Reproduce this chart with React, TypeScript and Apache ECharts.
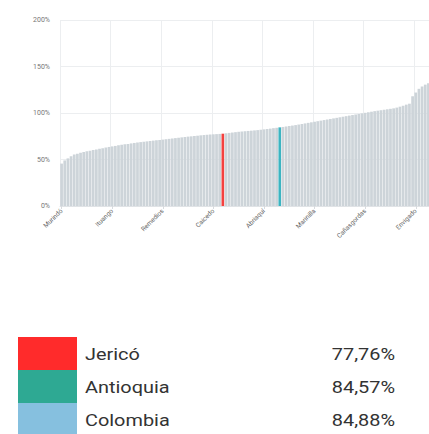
import React, { useEffect, useRef } from "react";
import * as echarts from "echarts";

const categories: string[] = [
  "Murindó", "Vigía del Fuerte", "Nechí", "El Bagre", "Zaragoza", "Cáceres", "Tarazá", "Segovia", "Anorí", "Briceño",
  "Dabeiba", "Mutatá", "Necoclí", "San Juan de Urabá", "Arboletes", "Turbo", "Ituango", "Peque", "Uramita", "Frontino",
  "Yondó", "Valdivia", "Chigorodó", "Carepa", "San Pedro de Urabá", "Apartadó", "Caucasia", "Puerto Nare", "Puerto Berrío", "Vegachí",
  "Yalí", "Amalfi", "Remedios", "Buriticá", "Sabanalarga", "Toledo", "Angostura", "Campamento", "Guadalupe", "San Andrés de Cuerquia",
  "Argelia", "Nariño", "Sonsón", "Abejorral", "Urrao", "Salgar", "Betulia", "Anzá", "Caicedo", "Heliconia",
  "Olaya", "Jericó", "Liborina", "Ebéjico", "San Francisco", "San Carlos", "San Luis", "Cocorná", "Granada", "Alejandría",
  "Concepción", "Santo Domingo", "Cisneros", "Maceo", "Abriaquí", "Caracolí", "Puerto Triunfo", "San Rafael", "San Roque", "Antioquia",
  "Yolombó", "Gómez Plata", "Carolina", "Giraldo", "Santa Fe de Antioquia", "Sopetrán", "San Jerónimo", "Armenia", "Titiribí", "Angelópolis",
  "Marinilla", "Amagá", "Venecia", "Fredonia", "Tarso", "Pueblorrico", "Hispania", "Betania", "Ciudad Bolívar", "Andes",
  "Jardín", "Támesis", "Valparaíso", "Caramanta", "Montebello", "Santa Bárbara", "Cañasgordas", "La Pintada", "Concordia", "Yarumal",
  "Santa Rosa de Osos", "Belmira", "Entrerríos", "San José de la Montaña", "Donmatías", "San Pedro de los Milagros", "Barbosa", "Girardota", "Copacabana", "Guatapé",
  "El Peñol", "San Vicente Ferrer", "Envigado", "Guarne", "Rionegro", "Sabaneta", "Medellín",
];

const values: number[] = [
  45.6, 49.0, 51.2, 53.5, 55.4, 56.3, 57.2, 58.0, 58.8, 59.5,
  60.1, 60.8, 61.5, 62.2, 62.9, 63.5, 64.1, 64.6, 65.2, 65.8,
  66.3, 66.8, 67.3, 67.8, 68.3, 68.7, 69.1, 69.5, 69.9, 70.3,
  70.7, 71.0, 71.4, 71.8, 72.2, 72.6, 73.0, 73.4, 73.8, 74.2,
  74.6, 74.9, 75.3, 75.6, 76.0, 76.3, 76.6, 76.9, 77.1, 77.3,
  77.5, 77.76, 78.2, 78.6, 79.0, 79.4, 79.8, 80.1, 80.4, 80.7,
  81.0, 81.3, 81.6, 82.0, 82.4, 82.8, 83.2, 83.7, 84.1, 84.57,
  85.0, 85.5, 86.0, 86.5, 87.0, 87.6, 88.2, 88.8, 89.4, 90.0,
  90.6, 91.2, 91.8, 92.4, 93.0, 93.6, 94.2, 94.8, 95.4, 96.0,
  96.6, 97.2, 97.8, 98.4, 99.0, 99.6, 100.2, 100.8, 101.4, 102.0,
  102.5, 103.0, 103.5, 104.0, 104.5, 105.0, 105.8, 106.8, 107.8, 109.0,
  110.0, 118.0, 122.0, 126.0, 128.5, 130.5, 132.0,
];

const highlightNames: string[] = ["Jericó", "Antioquia"];
const highlightColors: string[] = ["#f4413f", "#3bb4c1"];

const legendNames: string[] = ["Jericó", "Antioquia", "Colombia"];
const legendValues: number[] = [77.76, 84.57, 84.88];
const legendColors: string[] = ["#ff2b2b", "#2ea993", "#86c0df"];

const yTicks: number[] = [0, 50, 100, 150, 200];

const fmt = (v: number) => v.toFixed(2).replace(".", ",") + "%";

export default function App() {
  const ref = useRef<HTMLDivElement>(null);
  useEffect(() => {
    if (!ref.current) return;
    const chart = echarts.init(ref.current, null, { renderer: "svg" });
    const barData = values.map((v, i) => {
      const h = highlightNames.indexOf(categories[i]);
      return h >= 0 ? { value: v, itemStyle: { color: highlightColors[h] } } : v;
    });
    const rowTop = 337;
    const rowH = 33;
    const graphics: any[] = [];
    legendNames.forEach((n, i) => {
      graphics.push({
        type: "rect",
        shape: { x: 18, y: rowTop + i * rowH, width: 59, height: rowH },
        style: { fill: legendColors[i] },
      });
      graphics.push({
        type: "text",
        x: 85,
        y: rowTop + i * rowH + rowH / 2 + 1,
        scaleX: 1.17,
        style: {
          text: n,
          fill: "#333",
          font: "17px Roboto",
          textVerticalAlign: "middle",
          textAlign: "left",
        },
      });
      graphics.push({
        type: "text",
        x: 395,
        y: rowTop + i * rowH + rowH / 2 + 1,
        scaleX: 1.17,
        style: {
          text: fmt(legendValues[i]),
          fill: "#333",
          font: "17px Roboto",
          textVerticalAlign: "middle",
          textAlign: "right",
        },
      });
    });
    chart.setOption({
      animation: false,
      grid: {
        left: 60,
        top: 20,
        width: 370,
        height: 186,
        containLabel: false,
        outerBoundsMode: "none",
      },
      xAxis: {
        type: "category",
        data: categories,
        boundaryGap: true,
        axisLine: { show: true, lineStyle: { color: "#e0e3e6" } },
        axisTick: { show: true, interval: 15, alignWithLabel: true, length: 3, lineStyle: { color: "#d8dbde" } },
        axisLabel: {
          interval: 15,
          rotate: 45,
          fontSize: 6.5,
          color: "#666",
          margin: 4,
          fontFamily: "Roboto",
        },
        splitLine: { show: true, interval: 15, lineStyle: { color: "#eceef0", width: 1 } },
      },
      yAxis: {
        type: "value",
        min: yTicks[0],
        max: yTicks[yTicks.length - 1],
        interval: 50,
        axisLabel: {
          fontSize: 7,
          color: "#777",
          margin: 10,
          fontFamily: "Roboto",
          formatter: (v: number) => v + "%",
        },
        axisLine: { show: false },
        axisTick: { show: false },
        splitLine: { show: true, lineStyle: { color: "#eceef0", width: 1 } },
      },
      series: [
        {
          type: "bar",
          data: barData,
          barCategoryGap: "14%",
          itemStyle: { color: "#cdd4d9" },
        },
      ],
      graphic: graphics,
    });
    return () => chart.dispose();
  }, []);
  return (
    <div
      ref={ref}
      style={{ position: "fixed", left: 0, top: 0, width: 429, height: 434, background: "#fff" }}
    />
  );
}
